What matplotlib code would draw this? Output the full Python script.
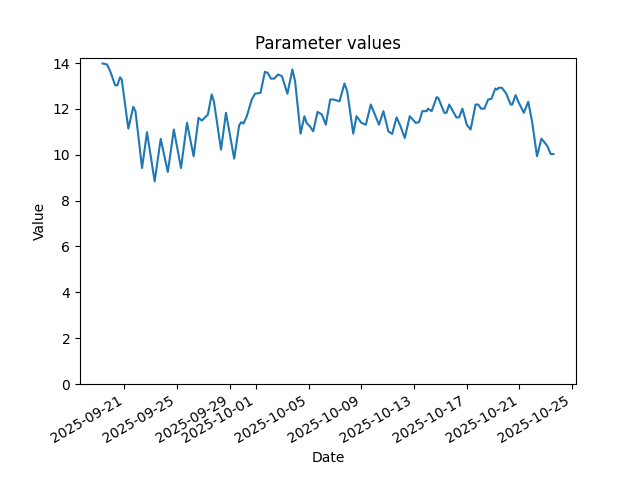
import matplotlib
matplotlib.use("Agg")
import matplotlib.pyplot as plt
import matplotlib.dates as mdates
import pandas as pd

dates = [
    "2025-09-19 08:00", "2025-09-19 16:00", "2025-09-19 22:00", "2025-09-20 07:00",
    "2025-09-20 11:00", "2025-09-20 16:00", "2025-09-20 19:00", "2025-09-21 07:00",
    "2025-09-21 16:00", "2025-09-21 20:00", "2025-09-22 08:00", "2025-09-22 17:00",
    "2025-09-23 07:00", "2025-09-23 18:00", "2025-09-24 07:00", "2025-09-24 18:00",
    "2025-09-25 07:00", "2025-09-25 18:00", "2025-09-26 06:00", "2025-09-26 15:00",
    "2025-09-26 21:00", "2025-09-27 05:00", "2025-09-27 08:00", "2025-09-27 15:00",
    "2025-09-27 19:00", "2025-09-28 08:00", "2025-09-28 17:00", "2025-09-29 08:00",
    "2025-09-29 17:00", "2025-09-29 21:00", "2025-09-30 01:00", "2025-09-30 07:00",
    "2025-09-30 16:00", "2025-09-30 22:00", "2025-10-01 08:00", "2025-10-01 16:00",
    "2025-10-01 21:00", "2025-10-02 03:00", "2025-10-02 09:00", "2025-10-02 16:00",
    "2025-10-02 23:00", "2025-10-03 09:00", "2025-10-03 18:00", "2025-10-03 23:00",
    "2025-10-04 09:00", "2025-10-04 16:00", "2025-10-04 20:00", "2025-10-05 02:00",
    "2025-10-05 08:00", "2025-10-05 16:00", "2025-10-06 00:00", "2025-10-06 07:00",
    "2025-10-06 15:00", "2025-10-06 21:00", "2025-10-07 08:00", "2025-10-07 17:00",
    "2025-10-07 22:00", "2025-10-08 09:00", "2025-10-08 15:00", "2025-10-09 00:00",
    "2025-10-09 08:00", "2025-10-09 17:00", "2025-10-10 08:00", "2025-10-10 16:00",
    "2025-10-11 01:00", "2025-10-11 08:00", "2025-10-11 16:00", "2025-10-11 22:00",
    "2025-10-12 07:00", "2025-10-12 16:00", "2025-10-13 03:00", "2025-10-13 09:00",
    "2025-10-13 15:00", "2025-10-13 23:00", "2025-10-14 01:00", "2025-10-14 08:00",
    "2025-10-14 17:00", "2025-10-14 20:00", "2025-10-15 07:00", "2025-10-15 11:00",
    "2025-10-15 16:00", "2025-10-16 05:00", "2025-10-16 10:00", "2025-10-16 16:00",
    "2025-10-17 00:00", "2025-10-17 07:00", "2025-10-17 16:00", "2025-10-17 21:00",
    "2025-10-18 02:00", "2025-10-18 08:00", "2025-10-18 15:00", "2025-10-18 21:00",
    "2025-10-19 04:00", "2025-10-19 07:00", "2025-10-19 10:00", "2025-10-19 16:00",
    "2025-10-20 00:00", "2025-10-20 08:00", "2025-10-20 11:00", "2025-10-20 17:00",
    "2025-10-20 23:00", "2025-10-21 08:00", "2025-10-21 16:00", "2025-10-21 23:00",
    "2025-10-22 08:00", "2025-10-22 16:00", "2025-10-22 21:00", "2025-10-23 03:00",
    "2025-10-23 09:00", "2025-10-23 14:00",
]

values = [
    13.98, 13.94, 13.64, 13.03,
    13.03, 13.38, 13.28, 11.14,
    12.09, 11.90, 9.42, 10.98,
    8.84, 10.69, 9.25, 11.10,
    9.42, 11.39, 9.93, 11.61,
    11.49, 11.68, 11.75, 12.63,
    12.33, 10.22, 11.83, 9.83,
    11.28, 11.42, 11.36, 11.68,
    12.41, 12.66, 12.70, 13.62,
    13.57, 13.32, 13.32, 13.50,
    13.43, 12.66, 13.72, 13.21,
    10.92, 11.68, 11.39, 11.24,
    11.02, 11.87, 11.75, 11.31,
    12.41, 12.41, 12.33, 13.11,
    12.77, 10.92, 11.68, 11.39,
    11.31, 12.19, 11.31, 11.90,
    11.02, 10.91, 11.63, 11.31,
    10.73, 11.68, 11.39, 11.42,
    11.90, 11.90, 12.01, 11.90,
    12.51, 12.48, 11.83, 11.83,
    12.19, 11.63, 11.63, 12.01,
    11.31, 11.10, 12.19, 12.19,
    12.01, 12.01, 12.41, 12.44,
    12.89, 12.84, 12.92, 12.92,
    12.66, 12.19, 12.19, 12.60,
    12.26, 11.83, 12.31, 11.46,
    9.93, 10.70, 10.56, 10.37,
    10.03, 10.03,
]

x = pd.to_datetime(dates)

fig, ax = plt.subplots(figsize=(6.4, 4.8), dpi=100)
ax.plot(x, values, color="#1f77b4", linewidth=1.5)
ax.set_ylim(bottom=0)
ax.xaxis.set_major_locator(mdates.DayLocator(bymonthday=range(1, 32, 4)))
ax.xaxis.set_major_formatter(mdates.DateFormatter("%Y-%m-%d"))
ax.set_title("Parameter values")
ax.set_xlabel("Date")
ax.set_ylabel("Value")
fig.autofmt_xdate()
fig.savefig("out.png", dpi=100)
